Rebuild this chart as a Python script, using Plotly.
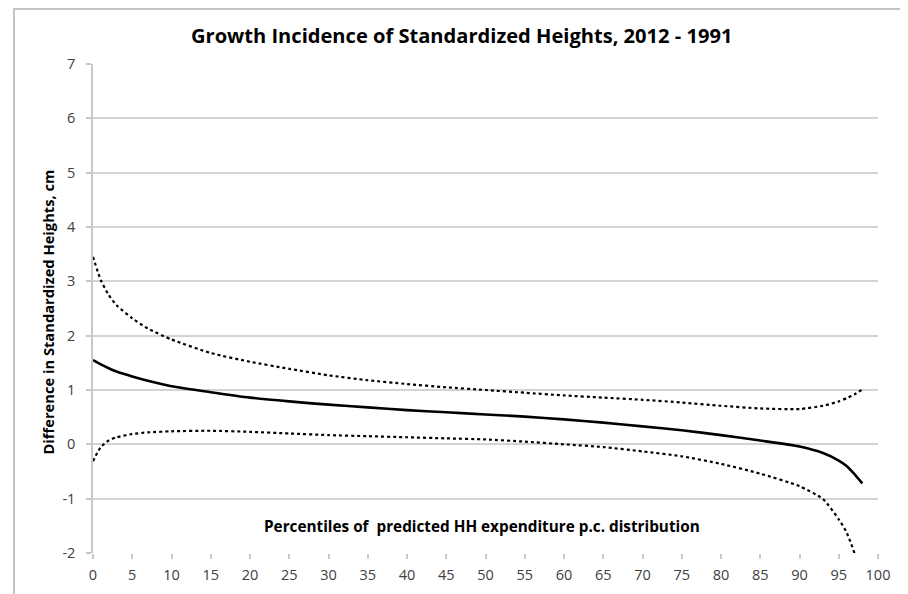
import plotly.graph_objects as go

# Percentiles
pct = [0, 1, 2, 3, 5, 7, 10, 15, 20, 25, 30, 35, 40, 45, 50, 55, 60, 65, 70, 75, 80, 85, 90, 93, 95, 96, 97, 98]
# Point estimate (solid)
mean_vals = [1.55, 1.47, 1.40, 1.34, 1.25, 1.17, 1.07, 0.96, 0.86, 0.79, 0.73, 0.68, 0.63, 0.59, 0.55, 0.51, 0.46, 0.40, 0.33, 0.26, 0.17, 0.07, -0.04, -0.16, -0.30, -0.40, -0.55, -0.72]
# Upper confidence band (dotted)
upper_vals = [3.45, 3.02, 2.75, 2.56, 2.32, 2.13, 1.93, 1.68, 1.52, 1.39, 1.27, 1.18, 1.11, 1.05, 1.00, 0.95, 0.90, 0.86, 0.82, 0.77, 0.71, 0.66, 0.65, 0.71, 0.79, 0.85, 0.92, 1.01]
# Lower confidence band (dotted)
lower_pct = [0, 1, 2, 3, 5, 7, 10, 15, 20, 25, 30, 35, 40, 45, 50, 55, 60, 65, 70, 75, 80, 85, 90, 93, 95, 96, 97]
lower_vals = [-0.31, -0.05, 0.07, 0.13, 0.19, 0.22, 0.24, 0.25, 0.23, 0.20, 0.17, 0.15, 0.13, 0.11, 0.09, 0.05, 0.0, -0.05, -0.13, -0.22, -0.36, -0.54, -0.77, -1.01, -1.38, -1.62, -2.0]

x_ticks = list(range(0, 101, 5))
y_ticks = list(range(-2, 8))

title_text = "Growth Incidence of Standardized Heights, 2012 - 1991"
x_title = "Percentiles of  predicted HH expenditure p.c. distribution"
y_title = "Difference in Standardized Heights, cm"

FONT = "Open Sans"
TICK_COLOR = "#404040"
FRAME_COLOR = "#c4c4c4"

# page body has an 8px margin: figure spans page px 8..908 x 8..594
OFF = 8
W, H = 908 - OFF, 594 - OFF
# paper area = outer chart frame (page px)
FL, FR, FT, FB = 15, 905, 10, 594
FW, FH = FR - FL, FB - FT
# inner plot area (page px)
L, R, T, B = 93, 878, 64, 553


def px_x(p):
    return (p - FL) / FW


def px_y(p):
    return (FB - p) / FH


fig = go.Figure()
fig.add_trace(go.Scatter(x=pct, y=upper_vals, mode="lines",
                         line=dict(color="black", width=2.2, dash="3px,3px", shape="spline", smoothing=0.6),
                         showlegend=False, hoverinfo="skip"))
fig.add_trace(go.Scatter(x=lower_pct, y=lower_vals, mode="lines",
                         line=dict(color="black", width=2.2, dash="3px,3px", shape="spline", smoothing=0.6),
                         showlegend=False, hoverinfo="skip"))
fig.add_trace(go.Scatter(x=pct, y=mean_vals, mode="lines",
                         line=dict(color="black", width=2.6, shape="spline", smoothing=0.6),
                         showlegend=False, hoverinfo="skip"))
# empty trace on the frame subplot
fig.add_trace(go.Scatter(x=[], y=[], xaxis="x2", yaxis="y2", showlegend=False, hoverinfo="skip"))

fig.update_layout(
    width=W, height=H,
    margin=dict(l=FL - OFF, r=(908 - FR) - 0, t=FT - OFF, b=594 - FB, pad=0, autoexpand=False),
    paper_bgcolor="white", plot_bgcolor="rgba(0,0,0,0)",
    font=dict(family=FONT, size=14.5, color=TICK_COLOR),
    showlegend=False,
    xaxis=dict(domain=[px_x(L), px_x(R)], anchor="y",
               range=[0, 100], tickvals=x_ticks, ticktext=[str(v) for v in x_ticks],
               showgrid=False, zeroline=False, showline=False,
               ticks="outside", ticklen=5, tickcolor="#c8c8c8", tickwidth=1.5,
               ticklabelstandoff=4,
               tickfont=dict(family=FONT, size=14.5, color=TICK_COLOR), fixedrange=True),
    yaxis=dict(domain=[px_y(B), px_y(T)], anchor="x",
               range=[-2, 7], tickvals=y_ticks, ticktext=[str(v) for v in y_ticks],
               showgrid=True, gridcolor="#d3d3d3", gridwidth=1.5,
               zeroline=False, showline=True, linecolor="#c8c8c8", linewidth=1.5,
               ticks="outside", ticklen=5, tickcolor="#c8c8c8", tickwidth=1.5,
               ticklabelstandoff=8,
               tickfont=dict(family=FONT, size=14.5, color=TICK_COLOR), fixedrange=True),
    # frame subplot: its axis lines draw the outer chart border (top, left, right)
    xaxis2=dict(domain=[0, 1], anchor="y2", side="top", range=[0, 1],
                showline=True, linecolor=FRAME_COLOR, linewidth=2,
                showgrid=False, zeroline=False, showticklabels=False, ticks="", fixedrange=True),
    yaxis2=dict(domain=[0, 1], anchor="x2", range=[0, 1],
                showline=True, mirror=True, linecolor=FRAME_COLOR, linewidth=2,
                showgrid=False, zeroline=False, showticklabels=False, ticks="", fixedrange=True),
    annotations=[
        dict(text=f"<b>{title_text}</b>", xref="paper", yref="paper",
             x=px_x(461), y=px_y(35), xanchor="center", yanchor="middle",
             showarrow=False, font=dict(family=FONT, size=20.1, color="black")),
        dict(text=f"<b>{x_title}</b>", xref="x", yref="y",
             x=49.5, y=-1.51, xanchor="center", yanchor="middle",
             showarrow=False, font=dict(family=FONT, size=15.3, color="black")),
        dict(text=f"<b>{y_title}</b>", xref="paper", yref="paper",
             x=px_x(47.5), y=px_y(312), xanchor="center", yanchor="middle", textangle=-90,
             showarrow=False, font=dict(family=FONT, size=14.7, color="black")),
    ],
)

fig.write_html("out.html")
